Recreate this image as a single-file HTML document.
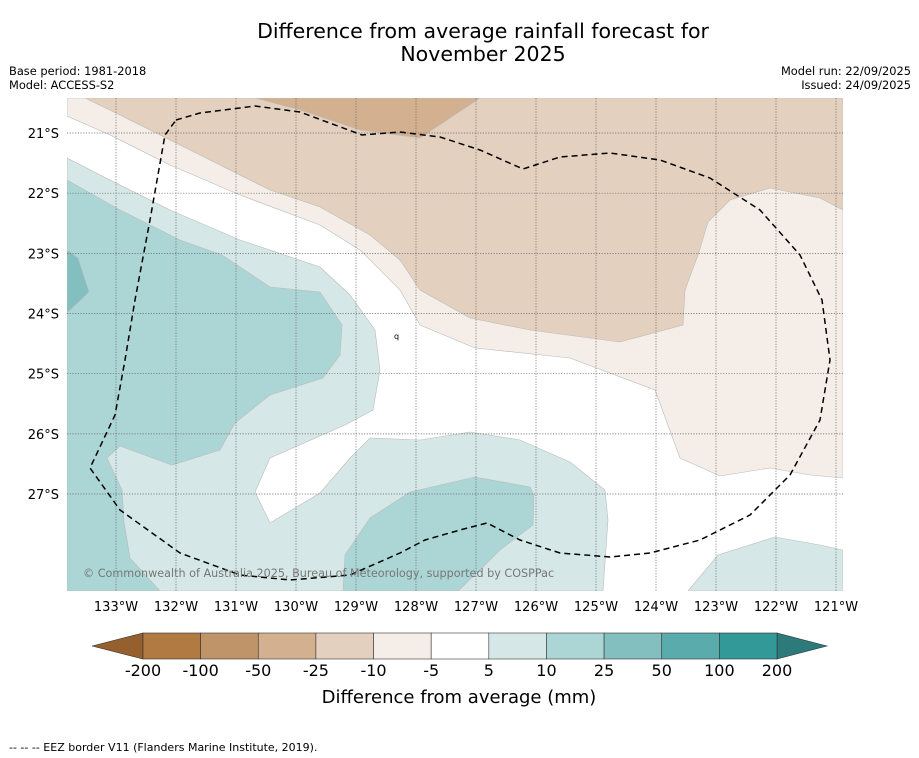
<!DOCTYPE html>
<html><head><meta charset="utf-8"><style>
body{margin:0;background:#fff;width:919px;height:758px;overflow:hidden;font-family:"DejaVu Sans","Liberation Sans",sans-serif}
svg{position:absolute;left:0;top:0}
</style></head><body>
<svg width="919" height="758">
<g id="title" font-size="20.5" text-anchor="middle" fill="#000">
<text x="483" y="38">Difference from average rainfall forecast for</text>
<text x="483" y="61">November 2025</text>
</g>
<g font-size="11.4" fill="#000">
<text x="9" y="75">Base period: 1981-2018</text>
<text x="9" y="89">Model: ACCESS-S2</text>
<text x="911" y="75" text-anchor="end">Model run: 22/09/2025</text>
<text x="911" y="89" text-anchor="end">Issued: 24/09/2025</text>
</g>
<defs><clipPath id="mc"><rect x="67" y="98" width="776" height="493"/></clipPath></defs>
<g clip-path="url(#mc)" stroke="#bbb" stroke-width="0.6">
<rect x="67" y="98" width="776" height="493" fill="#fff" stroke="none"/>
<polygon fill="#f4ede8" points="67,98 67,116 110,135 170,165 240,195 320,225 360,250 400,290 420,325 475,348 570,358 655,390 680,458 720,476 770,468 810,475 843,478 843,98"/>
<polygon fill="#e3d0be" points="85,98 120,115 170,140 200,155 270,190 320,207 370,235 400,260 420,290 470,318 530,330 620,342 683,325 685,290 698,255 708,222 730,200 770,188 820,198 843,210 843,98"/>
<polygon fill="#d2b090" points="255,98 300,110 360,130 420,138 480,98"/>
<polygon fill="#d5e8e7" points="67,158 110,180 170,210 240,240 320,267 350,295 375,330 380,370 373,410 345,425 270,458 255,492 270,523 320,493 350,458 370,438 420,440 470,432 520,440 570,462 605,490 608,520 603,591 67,591"/>
<polygon fill="#d5e8e7" points="688,591 718,555 775,537 820,545 843,550 843,591"/>
<polygon fill="#acd5d5" points="67,180 120,210 180,240 222,255 270,287 320,292 342,325 340,355 323,378 270,395 235,423 220,450 172,465 120,446 107,458 122,490 124,522 130,558 160,591 67,591"/>
<polygon fill="#acd5d5" points="343,591 345,555 370,518 410,492 475,477 530,487 534,495 533,525 500,550 480,570 458,591"/>
<polygon fill="#83bfbf" points="67,250 78,258 89,292 67,313"/>
<g id="grid" stroke="#666" stroke-width="0.7" stroke-dasharray="1.2,1.5" fill="none"></g>
<text x="394" y="339" font-size="8" fill="#000" stroke="none">q</text>
<path fill="none" stroke="#000" stroke-width="1.5" stroke-dasharray="6,4" d="M176,120 L200,113 255,106 300,112 362,135 400,132 440,137 480,150 523,169 560,157 610,153 660,160 710,178 760,210 800,255 822,300 830,360 820,420 790,475 750,515 700,540 650,553 610,557 560,553 520,540 487,523 460,530 425,540 400,553 350,575 290,580 240,575 180,553 120,510 90,468 115,415 125,360 135,300 150,220 165,135 Z"/>
<text x="83" y="577" font-size="11.2" fill="#777" stroke="none">© Commonwealth of Australia 2025, Bureau of Meteorology, supported by COSPPac</text>
</g>
<g id="lonlabels" font-size="13" text-anchor="middle"></g>
<g id="latlabels" font-size="13" text-anchor="end"></g>
<g id="cbar"></g>
<text x="459" y="703" font-size="18" text-anchor="middle">Difference from average (mm)</text>
<text x="9" y="751" font-size="11">--  --  -- EEZ border V11 (Flanders Marine Institute, 2019).</text>
</svg>
<script>
const lonTicks=[133,132,131,130,129,128,127,126,125,124,123,122,121];
const latTicks=[21,22,23,24,25,26,27];
const cbarLevels=["-200","-100","-50","-25","-10","-5","5","10","25","50","100","200"];
const cbarColors=["#b07a42","#c09469","#d2b090","#e3d0be","#f4ede8","#ffffff","#d5e8e7","#acd5d5","#83bfbf","#5aabab","#339898"];
const NS="http://www.w3.org/2000/svg";
function xLon(l){return 116+(133-l)*60;}
function yLat(l){return 133+(l-21)*60.17;}
function mk(t,a,p){const e=document.createElementNS(NS,t);for(const k in a)e.setAttribute(k,a[k]);p.appendChild(e);return e;}
const grid=document.getElementById('grid');
lonTicks.forEach(l=>{const e=mk('line',{x1:xLon(l),x2:xLon(l),y1:98,y2:591},grid);


const t=mk('text',{x:xLon(l),y:611},document.getElementById('lonlabels'));t.textContent=l+'°W';

});
latTicks.forEach(l=>{const e=mk('line',{x1:67,x2:843,y1:yLat(l),y2:yLat(l)},grid);


const t=mk('text',{x:59,y:yLat(l)+5},document.getElementById('latlabels'));t.textContent=l+'°S';

});
const cb=document.getElementById('cbar');
const x0=143,x1=777,w=(x1-x0)/cbarColors.length,y0=633,h=26;
const lt=mk('polygon',{points:`92,${y0+h/2} ${x0},${y0} ${x0},${y0+h}`,fill:'#96602e',stroke:'#333','stroke-width':0.6},cb);


const rt=mk('polygon',{points:`827,${y0+h/2} ${x1},${y0} ${x1},${y0+h}`,fill:'#2c7a7a',stroke:'#333','stroke-width':0.6},cb);


cbarColors.forEach((c,i)=>{const r=mk('rect',{x:x0+i*w,y:y0,width:w,height:h,fill:c,stroke:'#333','stroke-width':0.6},cb);

});
cbarLevels.forEach((v,i)=>{const t=mk('text',{x:x0+i*w,y:676,'font-size':16,'text-anchor':'middle'},cb);t.textContent=v;

});
</script>
</body></html>
